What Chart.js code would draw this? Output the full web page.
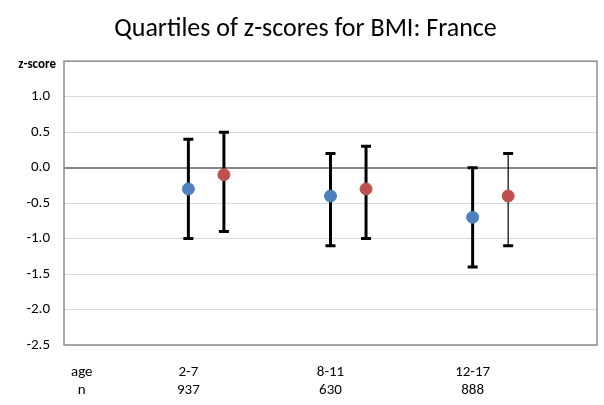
<!DOCTYPE html>
<html>
<head>
<meta charset="utf-8">
<script src="https://cdn.jsdelivr.net/npm/chart.js@4.4.0/dist/chart.umd.min.js"></script>
<style>
  html, body { margin: 0; padding: 0; background: #fff; }
  #wrap { width: 604px; height: 405px; position: relative; }
</style>
</head>
<body>
<div id="wrap"><canvas id="c"></canvas></div>
<script>
// ---- data ----
const ageGroups   = ["2-7", "8-11", "12-17"];
const sampleSizes = ["937", "630", "888"];
const rowLabels   = ["age", "n"];
const groupX      = [1, 2, 3];          // category positions
const seriesOffset = [0, 0.25];        // blue, red offset within a group

const blueMedian = [-0.3, -0.4, -0.7];
const blueQ1     = [-1.0, -1.1, -1.4];
const blueQ3     = [ 0.4,  0.2,  0.0];

const redMedian  = [-0.1, -0.3, -0.4];
const redQ1      = [-0.9, -1.0, -1.1];
const redQ3      = [ 0.5,  0.3,  0.2];

const yTicks = [-2.5, -2.0, -1.5, -1.0, -0.5, 0.0, 0.5, 1.0, 1.5];

const FONT = "'Carlito', 'Lato', 'Liberation Sans', sans-serif";

function pts(med, off) {
  return med.map((v, i) => ({ x: groupX[i] + off, y: v }));
}

const whiskerPlugin = {
  id: 'whiskers',
  beforeDatasetsDraw(chart, args, opts) {
    const ctx = chart.ctx;
    const xs = chart.scales.x, ys = chart.scales.y;
    chart.data.datasets.forEach((ds, di) => {
      ds.data.forEach((p, i) => {
        const px = xs.getPixelForValue(p.x);
        const top = ys.getPixelForValue(ds.q3[i]);
        const bot = ys.getPixelForValue(ds.q1[i]);
        const lw = opts.lineWidths[di][i];
        ctx.save();
        ctx.strokeStyle = '#000';
        ctx.lineWidth = lw;
        ctx.beginPath();
        ctx.moveTo(px, top);
        ctx.lineTo(px, bot);
        ctx.stroke();
        ctx.lineWidth = 3;
        ctx.beginPath();
        ctx.moveTo(px - 5, top); ctx.lineTo(px + 5, top);
        ctx.moveTo(px - 5, bot); ctx.lineTo(px + 5, bot);
        ctx.stroke();
        ctx.restore();
      });
    });
  }
};

const framePlugin = {
  id: 'frame',
  afterDraw(chart) {
    const ctx = chart.ctx, a = chart.chartArea;
    ctx.save();
    ctx.strokeStyle = '#8c8c8c';
    ctx.lineWidth = 1.5;
    ctx.strokeRect(a.left, a.top, a.right - a.left, a.bottom - a.top);
    ctx.fillStyle = '#000';
    ctx.font = "bold 13px " + FONT;
    ctx.textAlign = 'right';
    ctx.textBaseline = 'middle';
    ctx.fillText('z-score', a.left - 8, a.top + 4);
    ctx.restore();
  }
};

new Chart(document.getElementById('c'), {
  type: 'scatter',
  data: {
    datasets: [
      { label: 'blue', data: pts(blueMedian, seriesOffset[0]), q1: blueQ1, q3: blueQ3,
        backgroundColor: '#4F81BD', borderColor: '#4F81BD', pointRadius: 6, pointHoverRadius: 6 },
      { label: 'red', data: pts(redMedian, seriesOffset[1]), q1: redQ1, q3: redQ3,
        backgroundColor: '#C0504D', borderColor: '#C0504D', pointRadius: 6, pointHoverRadius: 6 }
    ]
  },
  options: {
    responsive: true,
    maintainAspectRatio: false,
    animation: false,
    layout: { padding: { left: 10, right: 3, top: 0, bottom: 0 } },
    plugins: {
      legend: { display: false },
      tooltip: { enabled: false },
      title: {
        display: true,
        text: 'Quartiles of z-scores for BMI: France',
        color: '#000',
        font: { family: FONT, size: 26, weight: 'normal' },
        padding: { top: 14, bottom: 16 }
      },
      whiskers: { lineWidths: [[3, 3, 3], [3, 3, 1.2]] }
    },
    scales: {
      x: {
        type: 'linear',
        min: 0.125, max: 3.875,
        grid: { display: false, drawTicks: false },
        border: { display: false },
        afterBuildTicks(scale) {
          scale.ticks = [0.25].concat(groupX).map(v => ({ value: v }));
        },
        afterFit(scale) { scale.height = 60; },
        ticks: {
          color: '#000',
          padding: 18,
          maxRotation: 0,
          autoSkip: false,
          font: { family: FONT, size: 15, lineHeight: '18px' },
          callback(value, index) {
            if (index === 0) return rowLabels;
            return [ageGroups[index - 1], sampleSizes[index - 1]];
          }
        }
      },
      y: {
        min: -2.5, max: 1.5,
        afterBuildTicks(scale) {
          scale.ticks = yTicks.map(v => ({ value: v }));
        },
        afterFit(scale) { scale.width = 54; },
        border: { display: false },
        grid: {
          drawTicks: false,
          color: (c) => c.tick && c.tick.value === 0 ? '#868686' : '#d9d9d9',
          lineWidth: (c) => c.tick && c.tick.value === 0 ? 2 : 1
        },
        ticks: {
          color: '#000',
          padding: 14,
          font: { family: FONT, size: 15 },
          callback(value) {
            if (value === 1.5) return '';
            return value.toFixed(1);
          }
        }
      }
    }
  },
  plugins: [whiskerPlugin, framePlugin]
});
</script>
</body>
</html>
